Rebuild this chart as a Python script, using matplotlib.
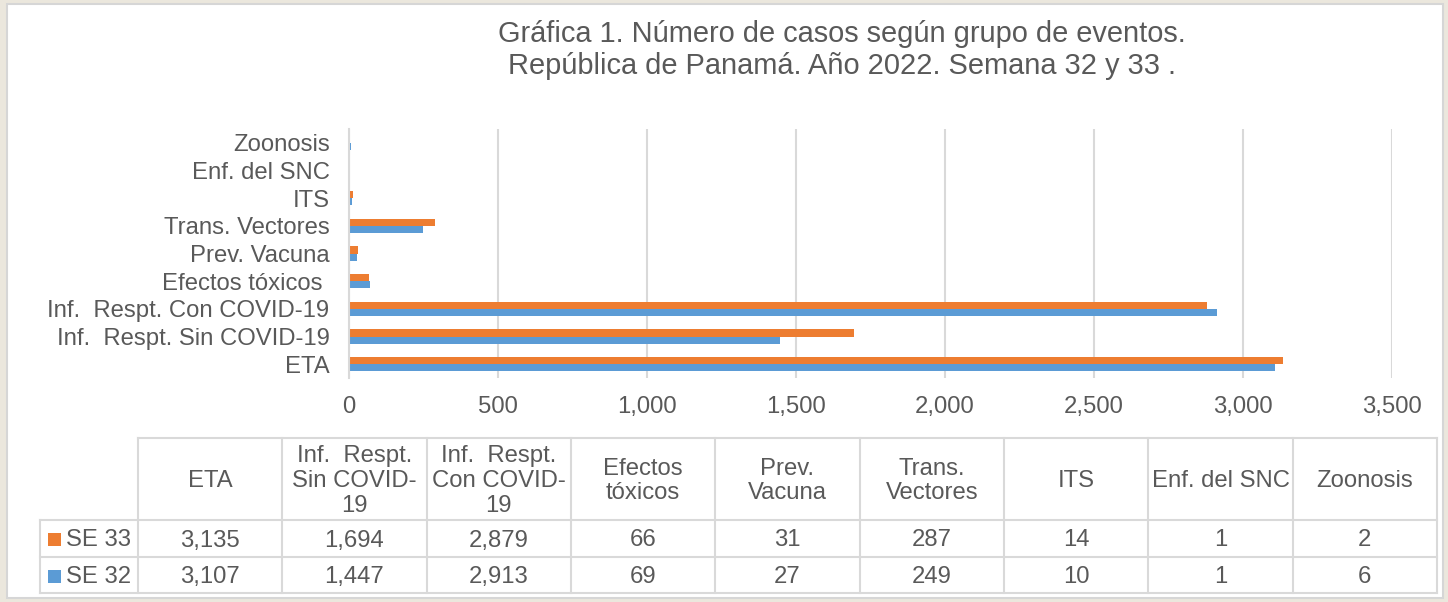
import numpy as np
import matplotlib.pyplot as plt
from matplotlib.patches import Rectangle

plt.rcParams['font.family'] = ['Liberation Sans', 'DejaVu Sans']

# datos
categorias = ["ETA", "Inf.  Respt. Sin COVID-19", "Inf.  Respt. Con COVID-19",
              "Efectos tóxicos ", "Prev. Vacuna", "Trans. Vectores", "ITS",
              "Enf. del SNC", "Zoonosis"]
encabezados = ["ETA", "Inf.  Respt.\nSin COVID-\n19", "Inf.  Respt.\nCon COVID-\n19",
               "Efectos\ntóxicos", "Prev.\nVacuna", "Trans.\nVectores", "ITS",
               "Enf. del SNC", "Zoonosis"]
se33 = [3135, 1694, 2879, 66, 31, 287, 14, 1, 2]
se32 = [3107, 1447, 2913, 69, 27, 249, 10, 1, 6]
series = ["SE 33", "SE 32"]

naranja = "#ED7D31"
azul = "#5B9BD5"
gris_txt = "#595959"
gris_lin = "#D9D9D9"
fs = 17.2

W, H = 1448, 602
fig = plt.figure(figsize=(W / 100, H / 100), dpi=100, facecolor="#EBE7DD")

# fondo blanco con borde
fig.patches.append(Rectangle((7 / W, 4 / H), (1443 - 7) / W, (598 - 4) / H,
                             transform=fig.transFigure, facecolor="white",
                             edgecolor="#D6D6D6", linewidth=1.5, zorder=-10))

ax = fig.add_axes([349 / W, 1 - 378 / H, (1392 - 349) / W, (378 - 129) / H])
ax.set_facecolor("none")
y = np.arange(len(categorias))
h = 0.26
ax.barh(y + h / 2, se33, height=h, color=naranja, zorder=3)
ax.barh(y - h / 2, se32, height=h, color=azul, zorder=3)
ax.set_xlim(0, 3500)
ax.set_ylim(-0.5, len(categorias) - 0.5)
ax.set_xticks(np.arange(0, 3501, 500))
ax.set_xticklabels([f"{v:,}" for v in range(0, 3501, 500)])
ax.set_yticks(y)
ax.set_yticklabels(categorias)
ax.tick_params(length=0, labelsize=fs, labelcolor=gris_txt)
ax.tick_params(axis="x", pad=13)
ax.tick_params(axis="y", pad=14)
ax.grid(axis="x", color=gris_lin, linewidth=1.5, zorder=0)
for s in ["top", "right", "bottom"]:
    ax.spines[s].set_visible(False)
ax.spines["left"].set_color(gris_lin)
ax.spines["left"].set_linewidth(1.5)
ax.spines["left"].set_zorder(4)

fig.text(842 / W, 1 - 50 / H,
         "Gráfica 1. Número de casos según grupo de eventos.\nRepública de Panamá. Año 2022. Semana 32 y 33 .",
         ha="center", va="center", fontsize=20.9, color=gris_txt, linespacing=1.2)

# tabla de datos
tx = fig.add_axes([0, 0, 1, 1], facecolor="none")
tx.set_xlim(0, W)
tx.set_ylim(H, 0)
tx.axis("off")
x0, x1 = 138, 1437
cw = (x1 - x0) / len(encabezados)
ys = [438, 520, 557, 593]
lk = dict(color=gris_lin, linewidth=1.5)
tx.plot([x0, x1], [ys[0], ys[0]], **lk)
for yy in ys[1:]:
    tx.plot([40, x1], [yy, yy], **lk)
for i in range(len(encabezados) + 1):
    tx.plot([x0 + i * cw] * 2, [ys[0], ys[3]], **lk)
tx.plot([40, 40], [ys[1], ys[3]], **lk)

for i, lab in enumerate(encabezados):
    xc = x0 + (i + 0.5) * cw
    tx.text(xc, (ys[0] + ys[1]) / 2 + 2, lab, ha="center", va="center",
            fontsize=fs, color=gris_txt, linespacing=1.17)
    tx.text(xc, (ys[1] + ys[2]) / 2 + 2, f"{se33[i]:,}", ha="center", va="center",
            fontsize=fs, color=gris_txt)
    tx.text(xc, (ys[2] + ys[3]) / 2 + 2, f"{se32[i]:,}", ha="center", va="center",
            fontsize=fs, color=gris_txt)

for r, (nom, col) in enumerate(zip(series, [naranja, azul])):
    yc = (ys[r + 1] + ys[r + 2]) / 2 + 1
    tx.add_patch(Rectangle((48, yc - 6.5), 13, 13, facecolor=col, edgecolor="none"))
    tx.text(66, yc + 1, nom, ha="left", va="center", fontsize=fs, color=gris_txt)

fig.savefig("out.png", dpi=100, facecolor=fig.get_facecolor())
